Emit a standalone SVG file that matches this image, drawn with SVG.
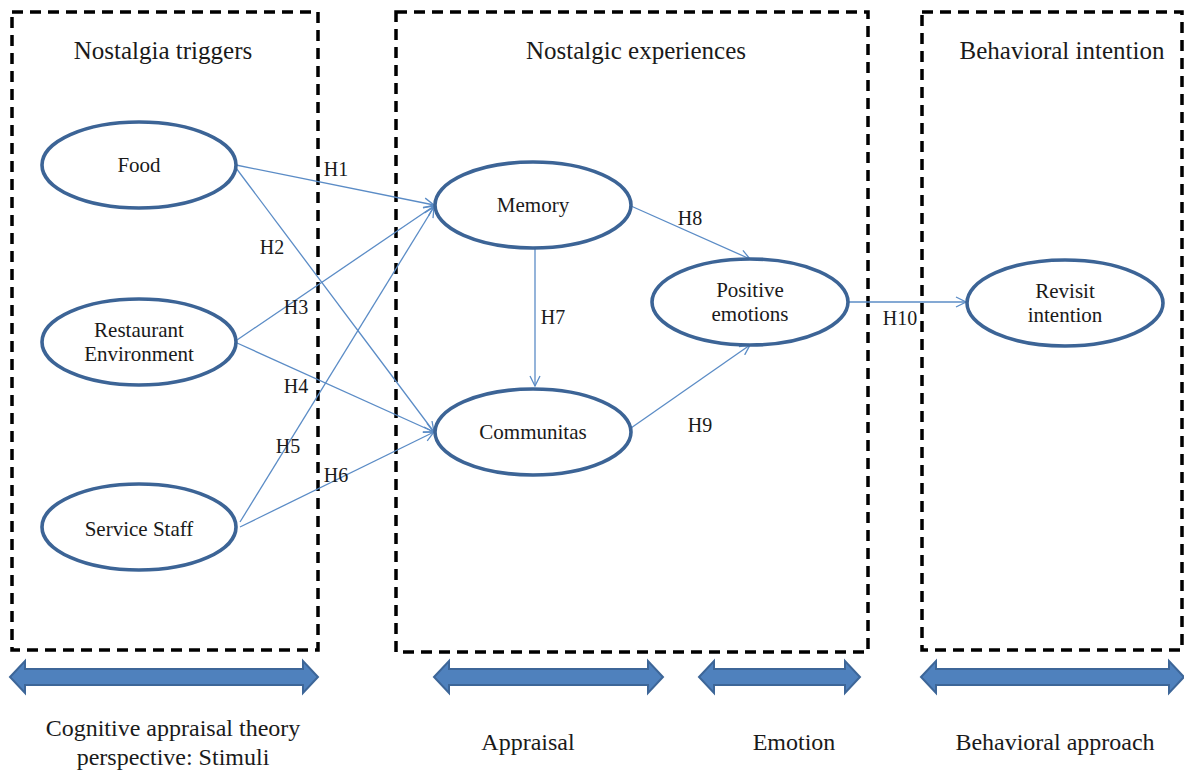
<svg xmlns="http://www.w3.org/2000/svg" width="1184" height="774" viewBox="0 0 1184 774" font-family="Liberation Serif, Times New Roman, serif">
<style>
.box{fill:none;stroke:#000;stroke-width:3.5;stroke-dasharray:11,7}
.node{fill:#fff;stroke:#3c6496;stroke-width:3.6}
.t{font-family:"Liberation Serif","Times New Roman",serif;fill:#1a1a1a;text-anchor:middle}
.nt{font-size:21px}
.title{font-size:25px}
.bt{font-size:24px}
.lbl{font-size:20px}
.edge{stroke:#5b8cc6;stroke-width:1.3;fill:none;marker-end:url(#ah)}
.blk{fill:#4f81bd;stroke:#3d6698;stroke-width:2}
</style>
<defs>
<marker id="ah" viewBox="0 0 12 12" refX="11" refY="6" markerWidth="12" markerHeight="12" markerUnits="userSpaceOnUse" orient="auto">
<path d="M1,1 L11,6 L1,11" fill="none" stroke="#5b8cc6" stroke-width="1.3"/>
</marker>
</defs>
<rect width="1184" height="774" fill="#fff"/>
<g id="frames">
<rect class="box" x="12" y="12" width="306" height="638"/>
<rect class="box" x="396" y="12" width="472" height="640"/>
<rect class="box" x="922" y="12" width="260" height="638"/>
</g>
<g id="titles">
<text class="t title" x="163" y="59">Nostalgia triggers</text>
<text class="t title" x="636" y="59">Nostalgic experiences</text>
<text class="t title" x="1062" y="59">Behavioral intention</text>
</g>
<g id="connectors">
<path class="edge" d="M236,165 L434,205"/>
<path class="edge" d="M236,168 L434,432"/>
<path class="edge" d="M237,340 L434,206"/>
<path class="edge" d="M237,343 L434,432"/>
<path class="edge" d="M240,522 L434,207"/>
<path class="edge" d="M240,527 L434,432"/>
<path class="edge" d="M535,248 L535,386"/>
<path class="edge" d="M631,206 L750,259"/>
<path class="edge" d="M631,428 L750,345"/>
<path class="edge" d="M848,302 L966,302"/>
<text class="t lbl" x="336" y="176">H1</text>
<text class="t lbl" x="272" y="254">H2</text>
<text class="t lbl" x="296" y="314">H3</text>
<text class="t lbl" x="296" y="393">H4</text>
<text class="t lbl" x="288" y="453">H5</text>
<text class="t lbl" x="336" y="482">H6</text>
<text class="t lbl" x="553" y="324">H7</text>
<text class="t lbl" x="690" y="225">H8</text>
<text class="t lbl" x="700" y="432">H9</text>
<text class="t lbl" x="900" y="325">H10</text>
</g>
<g id="food"><ellipse class="node" cx="139" cy="165" rx="97" ry="43"/><text class="t nt" x="139" y="172">Food</text></g>
<g id="restaurant"><ellipse class="node" cx="139" cy="342" rx="97" ry="43"/><text class="t nt" x="139" y="337">Restaurant</text><text class="t nt" x="139" y="361">Environment</text></g>
<g id="staff"><ellipse class="node" cx="139" cy="527" rx="97" ry="43"/><text class="t nt" x="139" y="536">Service Staff</text></g>
<g id="memory"><ellipse class="node" cx="533" cy="205" rx="98" ry="43"/><text class="t nt" x="533" y="212">Memory</text></g>
<g id="communitas"><ellipse class="node" cx="533" cy="432" rx="98" ry="43"/><text class="t nt" x="533" y="439">Communitas</text></g>
<g id="positive"><ellipse class="node" cx="750" cy="302" rx="98" ry="43"/><text class="t nt" x="750" y="297">Positive</text><text class="t nt" x="750" y="321">emotions</text></g>
<g id="revisit"><ellipse class="node" cx="1065" cy="303" rx="98" ry="43"/><text class="t nt" x="1065" y="298">Revisit</text><text class="t nt" x="1065" y="322">intention</text></g>
<g id="bands">
<path class="blk" d="M10,677 L25,661 L25,669 L303,669 L303,661 L318,677 L303,693 L303,685 L25,685 L25,693 Z"/>
<path class="blk" d="M434,677 L449,661 L449,669 L648,669 L648,661 L663,677 L648,693 L648,685 L449,685 L449,693 Z"/>
<path class="blk" d="M699,677 L714,661 L714,669 L845,669 L845,661 L860,677 L845,693 L845,685 L714,685 L714,693 Z"/>
<path class="blk" d="M921,677 L936,661 L936,669 L1169,669 L1169,661 L1184,677 L1169,693 L1169,685 L936,685 L936,693 Z"/>
<text class="t bt" x="173" y="736">Cognitive appraisal theory</text>
<text class="t bt" x="173" y="765">perspective: Stimuli</text>
<text class="t bt" x="528" y="750">Appraisal</text>
<text class="t bt" x="794" y="750">Emotion</text>
<text class="t bt" x="1055" y="750">Behavioral approach</text>
</g>
</svg>
